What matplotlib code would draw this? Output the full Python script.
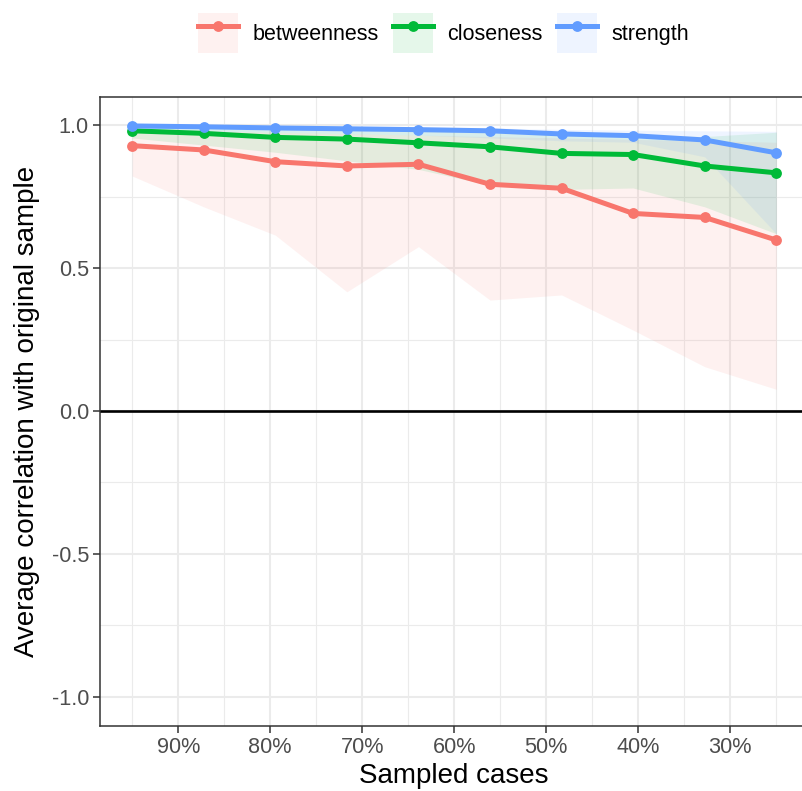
import matplotlib
matplotlib.use("Agg")
import matplotlib.pyplot as plt
from matplotlib.patches import Patch
from matplotlib.lines import Line2D
from matplotlib.legend_handler import HandlerTuple

plt.rcParams['font.family'] = ['Liberation Sans', 'DejaVu Sans']

# Data
sampled_pct = [95.0, 87.22, 79.44, 71.67, 63.89, 56.11, 48.33, 40.56, 32.78, 25.0]
measures = ["betweenness", "closeness", "strength"]
colors = {"betweenness": "#F8766D", "closeness": "#00BA38", "strength": "#619CFF"}

betweenness_mean = [0.928, 0.913, 0.872, 0.857, 0.863, 0.793, 0.779, 0.691, 0.677, 0.598]
betweenness_lower = [0.822, 0.714, 0.615, 0.417, 0.575, 0.388, 0.406, 0.283, 0.155, 0.076]
betweenness_upper = [0.985, 0.98, 0.975, 0.97, 0.965, 0.96, 0.955, 0.95, 0.945, 0.94]

closeness_mean = [0.980, 0.971, 0.957, 0.951, 0.938, 0.924, 0.901, 0.897, 0.857, 0.833]
closeness_lower = [0.955, 0.93, 0.905, 0.875, 0.845, 0.79, 0.775, 0.78, 0.714, 0.62]
closeness_upper = [0.995, 0.993, 0.99, 0.985, 0.98, 0.975, 0.97, 0.965, 0.96, 0.975]

strength_mean = [0.997, 0.994, 0.990, 0.987, 0.984, 0.980, 0.969, 0.963, 0.948, 0.903]
strength_lower = [0.985, 0.98, 0.975, 0.97, 0.965, 0.955, 0.945, 0.94, 0.889, 0.62]
strength_upper = [1.0, 0.999, 0.998, 0.996, 0.994, 0.99, 0.985, 0.982, 0.98, 0.978]

series = {
    "betweenness": (betweenness_mean, betweenness_lower, betweenness_upper),
    "closeness": (closeness_mean, closeness_lower, closeness_upper),
    "strength": (strength_mean, strength_lower, strength_upper),
}

x_ticks = [90, 80, 70, 60, 50, 40, 30]
x_minor = [95, 85, 75, 65, 55, 45, 35, 25]
y_ticks = [-1.0, -0.5, 0.0, 0.5, 1.0]
y_minor = [-0.75, -0.25, 0.25, 0.75]

W, H = 803, 791
fig = plt.figure(figsize=(W / 100, H / 100), dpi=100)
# panel extends slightly beyond the right edge of the image, as in the reference
ax = fig.add_axes([100 / W, 1 - 725.5 / H, 708.5 / W, (725.5 - 96.5) / H])

grid_col = "#EBEBEB"
for v in x_minor:
    ax.axvline(v, color=grid_col, lw=0.8, zorder=0)
for v in y_minor:
    ax.axhline(v, color=grid_col, lw=0.8, zorder=0)
for v in x_ticks:
    ax.axvline(v, color=grid_col, lw=1.5, zorder=0)
for v in y_ticks:
    ax.axhline(v, color=grid_col, lw=1.5, zorder=0)

for m in measures:
    mean, lo, hi = series[m]
    ax.fill_between(sampled_pct, lo, hi, color=colors[m], alpha=0.1, lw=0, zorder=1)

ax.axhline(0, color="black", lw=1.9, zorder=2)

for m in measures:
    mean, lo, hi = series[m]
    ax.plot(sampled_pct, mean, color=colors[m], lw=3.6, zorder=3,
            solid_capstyle='butt')
    ax.plot(sampled_pct, mean, 'o', color=colors[m], ms=7.8, zorder=3, mec='none')

ax.set_xlim(98.5, 21.5)
ax.set_ylim(-1.1, 1.1)
ax.set_xticks(x_ticks)
ax.set_xticklabels([f"{v}%" for v in x_ticks])
ax.set_yticks(y_ticks)
ax.set_yticklabels([f"{v:.1f}" for v in y_ticks])
ax.tick_params(axis='both', length=5, width=1.1, color="#333333",
               labelsize=15.6, labelcolor="#4D4D4D", pad=3)
for s in ax.spines.values():
    s.set_color("#333333")
    s.set_linewidth(1.1)

ax.set_xlabel("Sampled cases", fontsize=20, color="black", labelpad=4)
ax.yaxis.set_label_coords(-0.085, 0.5)
ax.set_ylabel("Average correlation with original sample", fontsize=20,
              color="black")

handles = []
for m in measures:
    p = Patch(facecolor=colors[m], alpha=0.1, edgecolor='none')
    l = Line2D([], [], color=colors[m], lw=3.6, marker='o', ms=7.8, mec='none')
    handles.append((p, l))

fig.legend(handles, measures, loc='center', bbox_to_anchor=(443.5 / W, 1 - 33 / H),
           ncol=3, frameon=False, fontsize=15.5, handlelength=1.86,
           handleheight=2.45, handletextpad=0.67, columnspacing=0.67,
           handler_map={tuple: HandlerTuple(ndivide=1)}, borderaxespad=0)

fig.savefig("out.png", dpi=100)
